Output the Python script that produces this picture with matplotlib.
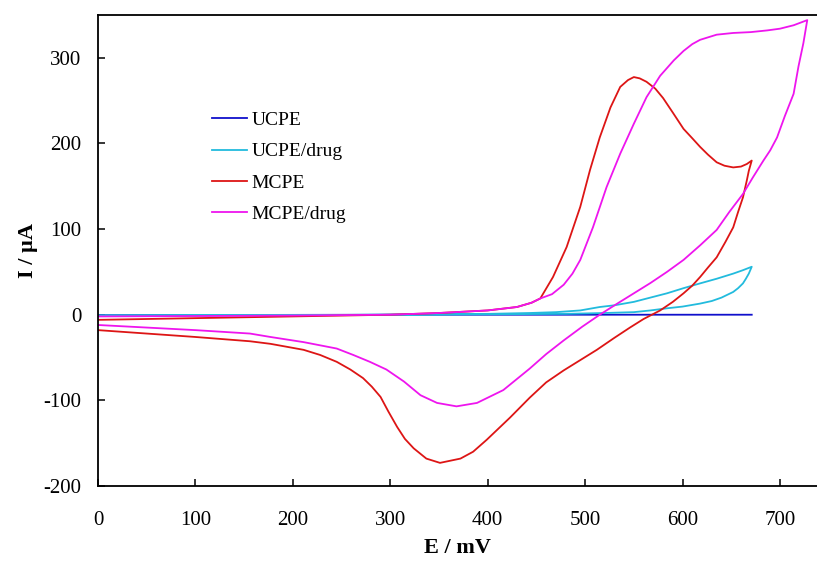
import numpy as np
import matplotlib
matplotlib.use('Agg')
import matplotlib.pyplot as plt

plt.rcParams['font.family'] = ['Liberation Serif', 'DejaVu Serif']
plt.rcParams['axes.unicode_minus'] = False

# UCPE - flat background
ucpe_E = [0, 100, 200, 300, 400, 500, 600, 671]
ucpe_I = [-0.5, -0.3, -0.2, 0, 0, 0, 0, 0]

# UCPE/drug - forward (upper) then reverse (lower)
ucped_E = [0, 100, 200, 300, 400, 443, 470, 495, 515, 530, 550, 567, 584, 601, 618, 635, 652, 662, 671,
           668, 665, 662, 657, 652, 640, 630, 618, 600, 584, 567, 550, 520, 480, 400, 300, 200, 100, 0]
ucped_I = [-1, -0.8, -0.5, 0, 1, 2, 3, 5, 9, 11, 15, 20, 25, 31, 36.6, 42, 48, 52, 56,
           48, 42, 36.6, 31, 26.6, 20, 16, 13, 9.5, 7.5, 5, 3, 2, 1, 0.5, 0, -0.5, -0.8, -1]

# MCPE
mcpe_E = [0, 100, 200, 300, 350, 400, 430, 445, 454, 467, 481, 495, 505, 515, 526, 536, 544,
          550, 556, 563, 572, 580, 590, 601, 610, 618, 626, 635, 643, 652, 660, 666, 671,
          668, 666, 662, 657, 652, 644, 635, 626, 618, 610, 601, 590, 577, 560, 546, 530,
          512, 495, 478, 460, 443, 423, 399, 385, 372, 351, 337, 324, 315, 307, 298, 290,
          281, 272, 259, 245, 228, 211, 177, 156, 100, 50, 0]
mcpe_I = [-6, -4, -2, 0, 2, 5, 9, 14, 19, 44, 79, 126, 169, 207, 242, 266, 274,
          277.5, 276, 272, 264, 253, 236, 217, 206, 196, 187, 178, 174, 172, 173, 176, 180,
          168, 157, 137, 120, 102, 85, 67, 55, 44, 34, 25, 15, 5, -5, -15, -27,
          -41, -53, -65, -79, -97, -120, -146, -160, -168, -173, -168, -156, -145, -131, -113, -96,
          -84, -74, -64, -55, -47, -41, -34, -31, -26, -22, -18]

# MCPE/drug
mcped_E = [0, 100, 200, 300, 350, 400, 430, 445, 454, 466, 478, 487, 495, 508, 522, 536, 550,
           563, 577, 591, 601, 610, 618, 635, 652, 670, 687, 700, 714, 728,
           724, 719, 714, 705, 697, 690, 683, 672, 662, 648, 635, 618, 601, 584, 567, 550,
           533, 515, 497, 478, 460, 443, 416, 389, 368, 348, 331, 314, 296, 279, 262, 245,
           211, 177, 156, 100, 50, 0]
mcped_I = [-2, -1.5, -1, 0, 2, 5, 9, 14, 19, 24, 35, 48, 64, 102, 149, 188, 223,
           254, 279, 297, 308, 316, 321, 327, 329, 330, 332, 334, 338, 344,
           317, 290, 258, 232, 207, 192, 180, 160, 141, 120, 99, 81, 64, 50, 37, 25,
           13, 0, -14, -30, -46, -63, -88, -103, -107, -103, -94, -78, -64, -55, -47, -39.5,
           -32, -26, -22, -18, -15, -12]

fig = plt.figure(figsize=(8.17, 5.61), dpi=100)
ax = fig.add_axes([0.12, 0.1337, 0.88, 0.8396])

lw = 1.3
ax.plot(ucpe_E, ucpe_I, color='#1010CC', lw=lw, label='UCPE')
ax.plot(ucped_E, ucped_I, color='#22BBDD', lw=lw, label='UCPE/drug')
ax.plot(mcpe_E, mcpe_I, color='#DD1515', lw=lw, label='MCPE')
ax.plot(mcped_E, mcped_I, color='#EE15EE', lw=lw, label='MCPE/drug')

ax.set_xlim(0, 738)
ax.set_ylim(-200, 350)
ax.set_xticks(range(0, 701, 100))
ax.set_yticks(range(-200, 301, 100))
ax.tick_params(direction='in', length=5, width=1.1, labelsize=15)
ax.tick_params(axis='x', pad=18)
ax.tick_params(axis='y', pad=12)
for s in ['left', 'bottom', 'top']:
    ax.spines[s].set_linewidth(1.3)
ax.spines['right'].set_visible(False)

ax.set_xlabel('E / mV', fontsize=16, fontweight='bold', labelpad=6)
ax.set_ylabel('I / µA', fontsize=16, fontweight='bold', labelpad=4)

ax.legend(loc='upper left', bbox_to_anchor=(0.1335, 0.832), frameon=False,
          fontsize=14, handlelength=1.8, handletextpad=0.26, labelspacing=0.7)

fig.savefig('out.png', dpi=100)
